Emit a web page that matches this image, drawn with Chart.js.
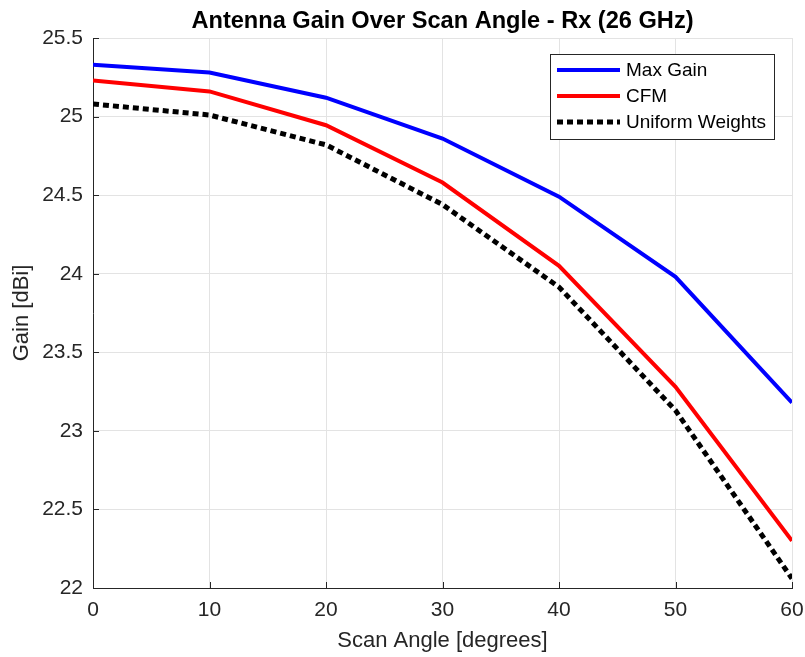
<!DOCTYPE html>
<html>
<head>
<meta charset="utf-8">
<title>Antenna Gain Over Scan Angle</title>
<script src="https://cdn.jsdelivr.net/npm/chart.js@4.4.1/dist/chart.umd.min.js"></script>
<style>
    html, body { margin: 0; padding: 0; background: #fff; }
    #wrap { width: 805px; height: 657px; }
</style>
</head>
<body>
<div id="wrap"><canvas id="gain-chart" width="805" height="657"></canvas></div>
<script>
// Scan angles (degrees) and gain per beamforming method (dBi)
const scanAngles = [0, 10, 20, 30, 40, 50, 60];
const maxGain = [25.33, 25.28, 25.12, 24.86, 24.49, 23.98, 23.18];
const cfmGain = [25.23, 25.16, 24.945, 24.58, 24.05, 23.28, 22.30];
const uniformGain = [25.08, 25.01, 24.82, 24.44, 23.915, 23.13, 22.06];

const seriesNames = ['Max Gain', 'CFM', 'Uniform Weights'];
const yTicks = [22, 22.5, 23, 23.5, 24, 24.5, 25, 25.5];
const xTicks = [0, 10, 20, 30, 40, 50, 60];

const FONT = '"Liberation Sans", Arial, sans-serif';
const AXIS_COLOR = '#262626';

const toPoints = (vals) => vals.map((v, i) => ({ x: scanAngles[i], y: v }));

// Title, inward tick marks and boxed legend, drawn on top of the plot
const decorations = {
    id: 'decorations',
    afterDatasetsDraw(chart) {
        const { ctx, chartArea: a, scales } = chart;
        ctx.save();

        // inward ticks on left and bottom axes
        ctx.strokeStyle = AXIS_COLOR;
        ctx.lineWidth = 1;
        ctx.beginPath();
        yTicks.forEach(t => {
            const y = Math.round(scales.y.getPixelForValue(t)) + 0.5;
            ctx.moveTo(a.left, y);
            ctx.lineTo(a.left + 6, y);
        });
        xTicks.forEach(t => {
            const x = Math.round(scales.x.getPixelForValue(t)) + 0.5;
            ctx.moveTo(x, a.bottom);
            ctx.lineTo(x, a.bottom - 6);
        });
        ctx.stroke();

        // title
        ctx.fillStyle = '#000';
        ctx.font = 'bold 23.6px ' + FONT;
        ctx.textAlign = 'center';
        ctx.textBaseline = 'middle';
        ctx.fillText('Antenna Gain Over Scan Angle - Rx (26 GHz)', (a.left + a.right) / 2, 21);

        // legend box
        const box = { x: 550.5, y: 54.5, w: 224, h: 85 };
        ctx.fillStyle = '#fff';
        ctx.fillRect(box.x, box.y, box.w, box.h);
        ctx.strokeStyle = '#262626';
        ctx.lineWidth = 1;
        ctx.strokeRect(box.x, box.y, box.w, box.h);

        ctx.font = '19px ' + FONT;
        ctx.textAlign = 'left';
        const rows = [70, 96, 122];
        chart.data.datasets.forEach((ds, i) => {
            const y = rows[i];
            ctx.strokeStyle = ds.borderColor;
            ctx.lineWidth = ds.borderWidth;
            ctx.setLineDash(ds.borderDash || []);
            ctx.beginPath();
            ctx.moveTo(557, y);
            ctx.lineTo(620, y);
            ctx.stroke();
            ctx.setLineDash([]);
            ctx.fillStyle = '#000';
            ctx.fillText(ds.label, 626, y + 1);
        });

        ctx.restore();
    }
};

new Chart(document.getElementById('gain-chart'), {
    type: 'line',
    data: {
        datasets: [
            {
                label: seriesNames[0],
                data: toPoints(maxGain),
                borderColor: '#0000ff',
                borderWidth: 4
            },
            {
                label: seriesNames[1],
                data: toPoints(cfmGain),
                borderColor: '#ff0000',
                borderWidth: 4
            },
            {
                label: seriesNames[2],
                data: toPoints(uniformGain),
                borderColor: '#000000',
                borderWidth: 5,
                borderDash: [6, 4]
            }
        ]
    },
    options: {
        responsive: false,
        animation: false,
        elements: {
            point: { radius: 0 },
            line: { tension: 0, fill: false }
        },
        layout: { padding: { top: 38, right: 13, left: 0, bottom: 0 } },
        plugins: {
            legend: { display: false },
            title: { display: false },
            tooltip: { enabled: false }
        },
        scales: {
            x: {
                type: 'linear',
                min: 0,
                max: 60,
                afterBuildTicks: (axis) => { axis.ticks = xTicks.map(v => ({ value: v })); },
                afterFit: (axis) => {
                    axis.height = 69;
                    axis.paddingLeft = 0;
                    axis.paddingRight = 0;
                },
                grid: { color: '#e3e3e3', drawTicks: false },
                border: { color: AXIS_COLOR, width: 1 },
                ticks: {
                    color: AXIS_COLOR,
                    font: { family: FONT, size: 21 },
                    padding: 10,
                    maxRotation: 0,
                    callback: (v) => String(v)
                },
                title: {
                    display: true,
                    text: 'Scan Angle [degrees]',
                    color: AXIS_COLOR,
                    font: { family: FONT, size: 22 },
                    padding: { top: 0, bottom: 3 }
                }
            },
            y: {
                type: 'linear',
                min: 22,
                max: 25.5,
                afterBuildTicks: (axis) => { axis.ticks = yTicks.map(v => ({ value: v })); },
                afterFit: (axis) => {
                    axis.width = 93;
                    axis.paddingTop = 0;
                    axis.paddingBottom = 0;
                },
                grid: { color: '#e3e3e3', drawTicks: false },
                border: { color: AXIS_COLOR, width: 1 },
                ticks: {
                    color: AXIS_COLOR,
                    font: { family: FONT, size: 21 },
                    padding: 10,
                    callback: (v) => String(v)
                },
                title: {
                    display: true,
                    text: 'Gain [dBi]',
                    color: AXIS_COLOR,
                    font: { family: FONT, size: 22 },
                    padding: { top: 9, bottom: 0 }
                }
            }
        }
    },
    plugins: [decorations]
});
</script>
</body>
</html>
